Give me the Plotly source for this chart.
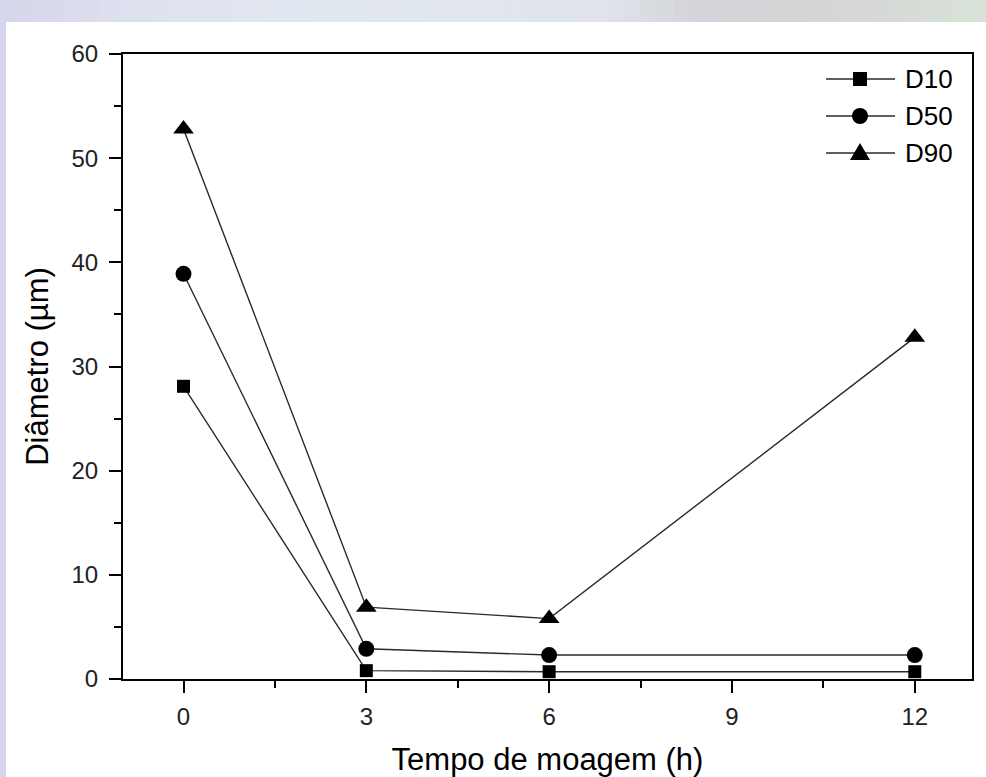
import plotly.graph_objects as go

# ---- data ----
tick_labels = ["0", "3", "6", "9", "12"]          # x-axis categories (equally spaced)
times = ["0", "3", "6", "12"]                       # milling time (h) of measurements
series_names = ["D10", "D50", "D90"]
d10 = [28.1, 0.8, 0.7, 0.7]
d50 = [38.9, 2.9, 2.3, 2.3]
d90 = [52.8, 6.9, 5.8, 32.8]
y_ticks = [0, 10, 20, 30, 40, 50, 60]

# ---- layout geometry (pixels) ----
W, H = 986, 777
L, R, T, B = 123, 14, 54, 98
PW, PH = W - L - R, H - T - B

def px_x(p):
    return (p - L) / PW

def px_y(p):
    return (H - B - p) / PH

x_pos = [tick_labels.index(t) for t in times]
minor_pos = [i + 0.5 for i in range(len(tick_labels) - 1)]

symbols = ["square", "circle", "triangle-up"]
sizes = [13, 16, 18]
values = [d10, d50, d90]

fig = go.Figure()
for name, vals, sym, sz in zip(series_names, values, symbols, sizes):
    fig.add_trace(go.Scatter(
        x=x_pos, y=vals, name=name, mode="lines+markers",
        line=dict(color="#2a2a2a", width=1.4),
        marker=dict(symbol=sym, size=sz, color="black", line=dict(width=0)),
        showlegend=False,
    ))

shapes = []
# white panel over bluish page background
shapes.append(dict(type="rect", xref="paper", yref="paper", layer="below",
                   x0=px_x(6), x1=px_x(W + 2), y0=px_y(H + 2), y1=px_y(22),
                   fillcolor="white", line=dict(width=0)))
# top gradient strip (decorative)
stops = [(0, (214, 214, 236)), (150, (222, 226, 238)), (330, (226, 232, 240)),
         (600, (224, 228, 234)), (700, (212, 212, 218)), (840, (214, 214, 214)),
         (986, (216, 226, 216))]
n = 60
for i in range(n):
    a = W * i / n
    b = W * (i + 1) / n
    m = (a + b) / 2
    for (p0, c0), (p1, c1) in zip(stops[:-1], stops[1:]):
        if p0 <= m <= p1:
            t = (m - p0) / (p1 - p0)
            c = tuple(int(round(c0[k] + (c1[k] - c0[k]) * t)) for k in range(3))
            break
    shapes.append(dict(type="rect", xref="paper", yref="paper", layer="below",
                       x0=px_x(a), x1=px_x(b + 0.5), y0=px_y(22), y1=px_y(-2),
                       fillcolor="rgb(%d,%d,%d)" % c, line=dict(width=0)))

# custom legend (long line glyph with marker in middle)
annotations = []
leg_rows = [79, 116, 153]
for name, sym, sz, row in zip(series_names, symbols, sizes, leg_rows):
    yy = px_y(row)
    shapes.append(dict(type="line", xref="paper", yref="paper",
                       x0=px_x(826), x1=px_x(895), y0=yy, y1=yy,
                       line=dict(color="#2a2a2a", width=1.4)))
    cx = px_x(860)
    if sym == "square":
        h = 7
        shapes.append(dict(type="rect", xref="paper", yref="paper",
                           xsizemode="pixel", ysizemode="pixel",
                           xanchor=cx, yanchor=yy, x0=-h, x1=h, y0=-h, y1=h,
                           fillcolor="black", line=dict(width=0)))
    elif sym == "circle":
        h = 8
        shapes.append(dict(type="circle", xref="paper", yref="paper",
                           xsizemode="pixel", ysizemode="pixel",
                           xanchor=cx, yanchor=yy, x0=-h, x1=h, y0=-h, y1=h,
                           fillcolor="black", line=dict(width=0)))
    else:
        shapes.append(dict(type="path", xref="paper", yref="paper",
                           xsizemode="pixel", ysizemode="pixel",
                           xanchor=cx, yanchor=yy,
                           path="M-10,-7 L10,-7 L0,10 Z",
                           fillcolor="black", line=dict(width=0)))
    annotations.append(dict(text=name, xref="paper", yref="paper",
                            x=px_x(903), y=yy, xanchor="left", yanchor="middle",
                            showarrow=False,
                            font=dict(family="Liberation Sans, Arial", size=26, color="black")))

axis_common = dict(
    showline=True, linecolor="black", linewidth=2, mirror=True,
    ticks="outside", ticklen=12, tickwidth=2, tickcolor="black",
    showgrid=False, zeroline=False,
    tickfont=dict(family="Liberation Sans, Arial", size=24, color="#222"),
)

fig.update_layout(
    width=W, height=H,
    margin=dict(l=L, r=R, t=T, b=B, pad=0),
    paper_bgcolor="rgb(212,212,240)",
    plot_bgcolor="white",
    shapes=shapes,
    annotations=annotations,
    xaxis=dict(
        **axis_common,
        range=[-0.331, 4.313],
        tickmode="array", tickvals=list(range(len(tick_labels))), ticktext=tick_labels,
        minor=dict(tickmode="array", tickvals=minor_pos, ticks="outside",
                   ticklen=7, tickwidth=2, tickcolor="black"),
        ticklabelstandoff=3,
        title=dict(text="Tempo de moagem (h)", standoff=26,
                   font=dict(family="Liberation Sans, Arial", size=31, color="black")),
        automargin=False,
    ),
    yaxis=dict(
        **axis_common,
        range=[0, 60],
        tickmode="array", tickvals=y_ticks,
        minor=dict(dtick=5, tick0=0, ticks="outside",
                   ticklen=7, tickwidth=2, tickcolor="black"),
        ticklabelstandoff=6,
        title=dict(text="Diâmetro (µm)", standoff=14,
                   font=dict(family="Liberation Sans, Arial", size=31, color="black")),
        automargin=False,
    ),
    showlegend=False,
)

fig.write_html("out.html")
